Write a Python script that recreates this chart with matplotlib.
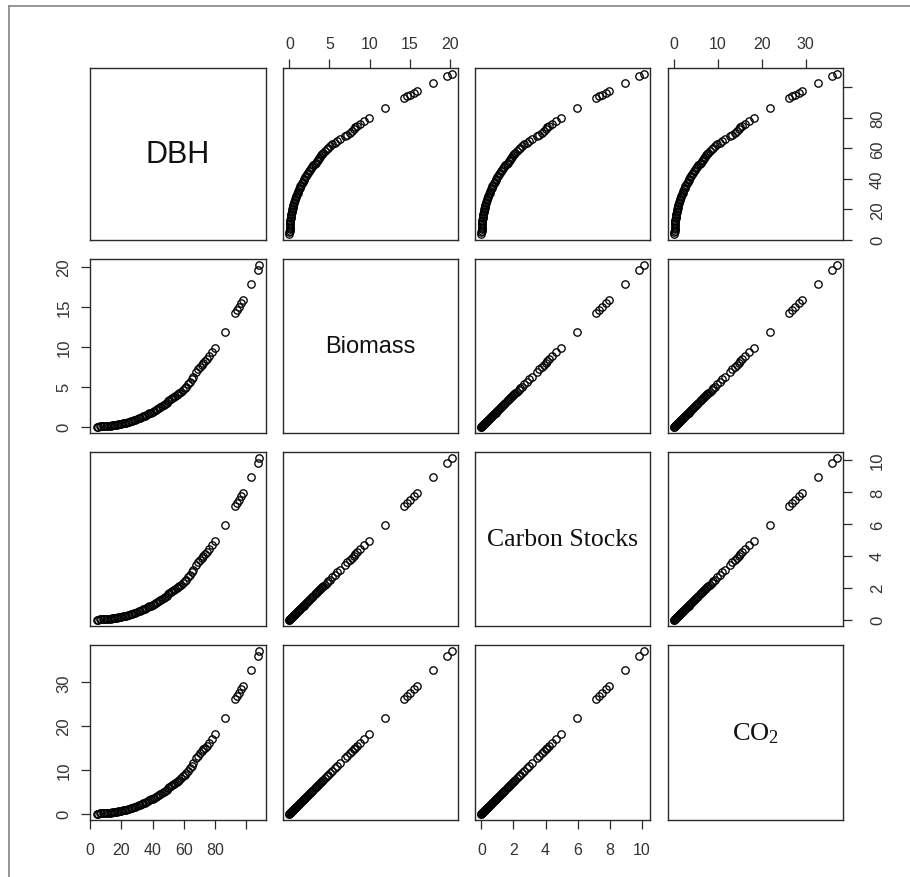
import matplotlib
matplotlib.use("Agg")
import matplotlib.pyplot as plt
from matplotlib.lines import Line2D

# ---- data ----
dbh = [4.0, 5, 6, 7, 8, 9, 10, 11, 12, 13,
       14, 15, 16, 17, 18, 19, 20, 21, 22, 23,
       24, 25, 26, 27, 28, 29, 30, 31, 32, 33,
       34, 35, 36, 37, 38, 39, 40, 41, 42, 43,
       44, 45, 46, 47, 48, 49, 50, 50.7, 51.5, 52.5,
       53.5, 54.5, 55.5, 56.3, 57.2, 58.3, 59.5, 60.5, 61.6, 62.7,
       63.8, 65, 66, 67.8, 69, 70.4, 71.5, 72.6, 73.8, 74.8,
       76.3, 78, 79.8, 86.4, 93, 94.3, 95.2, 96.5, 97.8, 102.9, 107.7, 108.6]

biomass = [0.02, 0.02, 0.03, 0.04, 0.05, 0.06, 0.08, 0.10, 0.12, 0.14,
           0.17, 0.20, 0.23, 0.26, 0.30, 0.34, 0.38, 0.42, 0.47, 0.52,
           0.57, 0.63, 0.69, 0.75, 0.82, 0.89, 0.96, 1.04, 1.12, 1.20,
           1.29, 1.38, 1.47, 1.57, 1.67, 1.77, 1.88, 1.99, 2.10, 2.22,
           2.34, 2.47, 2.60, 2.73, 2.87, 3.01, 3.16, 3.30, 3.45, 3.58,
           3.72, 3.85, 3.97, 4.08, 4.19, 4.40, 4.65, 4.85, 5.02, 5.35,
           5.65, 6.00, 6.27, 6.90, 7.20, 7.50, 7.75, 8.00, 8.20, 8.42,
           8.83, 9.30, 9.90, 11.90, 14.30, 14.60, 15.00, 15.50, 15.90, 17.90, 19.60, 20.20]

carbon = [0.01, 0.01, 0.015, 0.02, 0.025, 0.03, 0.04, 0.05, 0.06, 0.07,
          0.085, 0.10, 0.115, 0.13, 0.15, 0.17, 0.19, 0.21, 0.235, 0.26,
          0.285, 0.315, 0.345, 0.375, 0.41, 0.445, 0.48, 0.52, 0.56, 0.60,
          0.645, 0.69, 0.735, 0.785, 0.835, 0.885, 0.94, 0.995, 1.05, 1.11,
          1.17, 1.235, 1.30, 1.365, 1.435, 1.505, 1.58, 1.65, 1.725, 1.79,
          1.86, 1.925, 1.985, 2.04, 2.095, 2.20, 2.325, 2.425, 2.51, 2.675,
          2.825, 3.00, 3.135, 3.45, 3.60, 3.75, 3.875, 4.00, 4.10, 4.21,
          4.415, 4.65, 4.95, 5.95, 7.15, 7.30, 7.50, 7.75, 7.95, 8.95, 9.80, 10.10]

co2 = [0.04, 0.04, 0.06, 0.07, 0.09, 0.11, 0.15, 0.18, 0.22, 0.26,
       0.31, 0.37, 0.42, 0.48, 0.55, 0.62, 0.70, 0.77, 0.86, 0.95,
       1.05, 1.16, 1.27, 1.38, 1.50, 1.63, 1.76, 1.91, 2.06, 2.20,
       2.37, 2.53, 2.70, 2.88, 3.06, 3.25, 3.45, 3.65, 3.85, 4.07,
       4.29, 4.53, 4.77, 5.01, 5.27, 5.52, 5.80, 6.06, 6.33, 6.57,
       6.83, 7.07, 7.29, 7.49, 7.69, 8.07, 8.53, 8.90, 9.21, 9.82,
       10.37, 11.01, 11.51, 12.66, 13.21, 13.76, 14.22, 14.68, 15.05, 15.45,
       16.20, 17.07, 18.17, 21.84, 26.24, 26.79, 27.53, 28.44, 29.18, 32.85, 35.97, 37.07]

var_names = ["DBH", "Biomass", "Carbon Stocks", "CO$_2$"]
tick_values = [[0, 20, 40, 60, 80, 100], [0, 5, 10, 15, 20],
               [0, 2, 4, 6, 8, 10], [0, 10, 20, 30]]
tick_labels = [["0", "20", "40", "60", "80", ""], ["0", "5", "10", "15", "20"],
               ["0", "2", "4", "6", "8", "10"], ["0", "10", "20", "30"]]

# ---- style ----
plt.rcParams["font.family"] = ["Liberation Sans", "DejaVu Sans"]
plt.rcParams["mathtext.fontset"] = "custom"
plt.rcParams["mathtext.rm"] = "Liberation Serif"
plt.rcParams["mathtext.it"] = "Liberation Serif:italic"

label_styles = [
    dict(family=["Liberation Sans"], fontsize=22),
    dict(family=["Liberation Sans"], fontsize=17),
    dict(family=["Liberation Serif"], fontsize=18.5),
    dict(family=["Liberation Serif"], fontsize=19),
]

W, H = 910, 878
fig = plt.figure(figsize=(W / 100, H / 100), dpi=100)
fig.patch.set_facecolor("white")

# screenshot frame lines
fig.add_artist(Line2D([9 / W, 1.0], [1 - 7 / H, 1 - 7 / H], transform=fig.transFigure,
                      color="#7a7a7a", lw=1.1))
fig.add_artist(Line2D([9 / W, 9 / W], [0.0, 1 - 7 / H], transform=fig.transFigure,
                      color="#7a7a7a", lw=1.1))

cols_px = [(90, 266), (283, 458), (475, 650), (668, 843)]
rows_px = [(69, 241), (260, 434), (453, 627), (646, 821)]

data = [dbh, biomass, carbon, co2]


def padded(v):
    lo, hi = min(v), max(v)
    r = hi - lo
    return lo - 0.04 * r, hi + 0.04 * r


box_color = "#2a2a2a"
label_color = "#333333"
common = dict(length=6.5, width=0.9, color=box_color, labelcolor=label_color)

for i in range(4):
    for j in range(4):
        x0, x1 = cols_px[j]
        y0, y1 = rows_px[i]
        ax = fig.add_axes([x0 / W, 1 - y1 / H, (x1 - x0) / W, (y1 - y0) / H])
        for s in ax.spines.values():
            s.set_color(box_color)
            s.set_linewidth(1.0)
        ax.set_xticks([])
        ax.set_yticks([])
        if i == j:
            ax.text(0.5, 0.5, var_names[i], transform=ax.transAxes,
                    ha="center", va="center", color="#111111", **label_styles[i])
        else:
            ax.plot(data[j], data[i], linestyle="none", marker="o", ms=5.3,
                    mfc="none", mec="black", mew=0.95)
        # x axes: bottom for cols 0,2 (row 3), top for cols 1,3 (row 0)
        if i == 3 and j in (0, 2):
            ax.set_xticks(tick_values[j])
            ax.set_xticklabels(tick_labels[j])
            ax.tick_params(axis="x", labelsize=11.5, pad=9.5, **common)
        if i == 0 and j in (1, 3):
            ax.xaxis.tick_top()
            ax.set_xticks(tick_values[j])
            ax.set_xticklabels(tick_labels[j])
            ax.tick_params(axis="x", labelsize=11.5, pad=6, **common)
        # y axes: left for rows 1,3 (col 0), right for rows 0,2 (col 3)
        if j == 0 and i in (1, 3):
            ax.set_yticks(tick_values[i])
            ax.set_yticklabels(tick_labels[i], rotation=90, va="center")
            ax.tick_params(axis="y", labelsize=12, pad=7, **common)
        if j == 3 and i in (0, 2):
            ax.yaxis.tick_right()
            ax.set_yticks(tick_values[i])
            ax.set_yticklabels(tick_labels[i], rotation=90, va="center")
            ax.tick_params(axis="y", labelsize=12, pad=13, **common)
        ax.set_xlim(*padded(data[j]))
        ax.set_ylim(*padded(data[i]))

fig.savefig("out.png", dpi=100)
